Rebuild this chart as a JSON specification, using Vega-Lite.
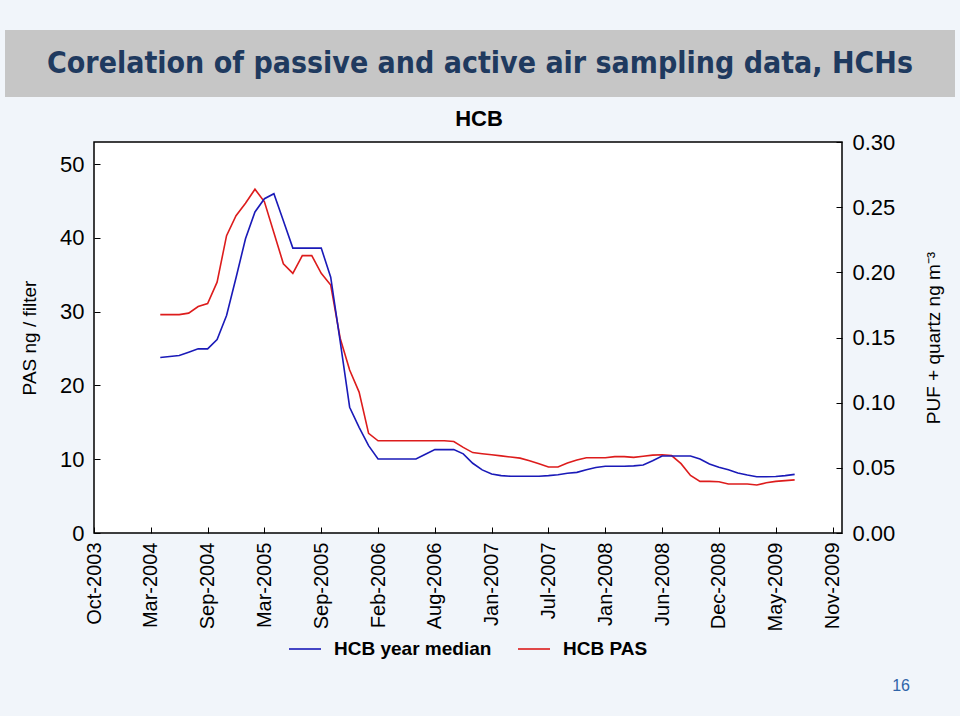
{
  "$schema": "https://vega.github.io/schema/vega-lite/v6.json",
  "background": "#f1f5fa",
  "padding": {"left": 5, "top": 30, "right": 5, "bottom": 22},
  "spacing": 10,
  "resolve": {"scale": {"color": "independent"}, "legend": {"color": "independent"}},
  "config": {
    "font": "Liberation Sans",
    "view": {"stroke": null},
    "axis": {"labelColor": "black", "titleColor": "black", "tickColor": "black", "grid": false, "domain": false, "labelFont": "Liberation Sans", "titleFont": "Liberation Sans", "titleFontWeight": "normal"}
  },
  "title": {"text": "16", "orient": "bottom", "anchor": "end", "fontSize": 16, "fontWeight": "normal", "color": "#2f64a8", "offset": 18, "dx": -45},
  "datasets": {
    "hcb": [
      {"date": "2004-04-27", "pas": 29.6, "median": 0.1346},
      {"date": "2004-05-25", "pas": 29.6, "median": 0.1354},
      {"date": "2004-06-22", "pas": 29.6, "median": 0.1362},
      {"date": "2004-07-20", "pas": 29.8, "median": 0.1387},
      {"date": "2004-08-17", "pas": 30.7, "median": 0.1413},
      {"date": "2004-09-14", "pas": 31.1, "median": 0.1413},
      {"date": "2004-10-12", "pas": 34.0, "median": 0.1485},
      {"date": "2004-11-09", "pas": 40.3, "median": 0.1669},
      {"date": "2004-12-07", "pas": 43.0, "median": 0.1958},
      {"date": "2005-01-04", "pas": 44.7, "median": 0.2258},
      {"date": "2005-02-01", "pas": 46.6, "median": 0.2463},
      {"date": "2005-03-01", "pas": 44.9, "median": 0.2565},
      {"date": "2005-04-01", "pas": 40.7, "median": 0.2603},
      {"date": "2005-05-02", "pas": 36.5, "median": 0.2395},
      {"date": "2005-06-01", "pas": 35.2, "median": 0.2186},
      {"date": "2005-07-04", "pas": 37.6, "median": 0.2186},
      {"date": "2005-08-04", "pas": 37.6, "median": 0.2186},
      {"date": "2005-09-06", "pas": 35.2, "median": 0.2186},
      {"date": "2005-10-04", "pas": 33.6, "median": 0.1963},
      {"date": "2005-11-01", "pas": 26.4, "median": 0.147},
      {"date": "2005-11-29", "pas": 22.1, "median": 0.0965},
      {"date": "2005-12-27", "pas": 19.1, "median": 0.0811},
      {"date": "2006-01-24", "pas": 13.5, "median": 0.067},
      {"date": "2006-02-21", "pas": 12.5, "median": 0.0568},
      {"date": "2006-03-21", "pas": 12.5, "median": 0.0568},
      {"date": "2006-04-18", "pas": 12.5, "median": 0.0568},
      {"date": "2006-05-16", "pas": 12.5, "median": 0.0568},
      {"date": "2006-06-13", "pas": 12.5, "median": 0.0568},
      {"date": "2006-07-11", "pas": 12.5, "median": 0.0604},
      {"date": "2006-08-08", "pas": 12.5, "median": 0.064},
      {"date": "2006-09-05", "pas": 12.5, "median": 0.064},
      {"date": "2006-10-03", "pas": 12.4, "median": 0.064},
      {"date": "2006-10-31", "pas": 11.6, "median": 0.0607},
      {"date": "2006-11-28", "pas": 10.9, "median": 0.0535},
      {"date": "2006-12-26", "pas": 10.75, "median": 0.0484},
      {"date": "2007-01-23", "pas": 10.6, "median": 0.0453},
      {"date": "2007-02-20", "pas": 10.45, "median": 0.044},
      {"date": "2007-03-20", "pas": 10.3, "median": 0.0435},
      {"date": "2007-04-17", "pas": 10.15, "median": 0.0435},
      {"date": "2007-05-15", "pas": 9.8, "median": 0.0435},
      {"date": "2007-06-12", "pas": 9.4, "median": 0.0435},
      {"date": "2007-07-10", "pas": 8.95, "median": 0.044},
      {"date": "2007-08-07", "pas": 8.95, "median": 0.0447},
      {"date": "2007-09-04", "pas": 9.5, "median": 0.0458},
      {"date": "2007-10-02", "pas": 9.9, "median": 0.0465},
      {"date": "2007-10-30", "pas": 10.2, "median": 0.0485},
      {"date": "2007-11-27", "pas": 10.2, "median": 0.0502},
      {"date": "2008-01-08", "pas": 10.2, "median": 0.0512},
      {"date": "2008-02-05", "pas": 10.35, "median": 0.0512},
      {"date": "2008-03-04", "pas": 10.35, "median": 0.0512},
      {"date": "2008-04-01", "pas": 10.25, "median": 0.0515},
      {"date": "2008-04-29", "pas": 10.4, "median": 0.0522},
      {"date": "2008-05-27", "pas": 10.55, "median": 0.0555},
      {"date": "2008-06-24", "pas": 10.6, "median": 0.0591},
      {"date": "2008-07-22", "pas": 10.5, "median": 0.0591},
      {"date": "2008-08-19", "pas": 9.4, "median": 0.0591},
      {"date": "2008-09-16", "pas": 7.8, "median": 0.0591},
      {"date": "2008-10-14", "pas": 7.0, "median": 0.0568},
      {"date": "2008-11-11", "pas": 7.0, "median": 0.053},
      {"date": "2008-12-09", "pas": 6.95, "median": 0.0505},
      {"date": "2009-01-06", "pas": 6.65, "median": 0.0485},
      {"date": "2009-02-03", "pas": 6.65, "median": 0.0461},
      {"date": "2009-03-03", "pas": 6.65, "median": 0.0445},
      {"date": "2009-03-31", "pas": 6.5, "median": 0.0432},
      {"date": "2009-04-28", "pas": 6.8, "median": 0.0432},
      {"date": "2009-05-26", "pas": 7.0, "median": 0.0433},
      {"date": "2009-06-23", "pas": 7.1, "median": 0.044},
      {"date": "2009-07-21", "pas": 7.2, "median": 0.045}
    ]
  },
  "vconcat": [
    {
      "width": 950,
      "height": 67,
      "view": {"fill": "#c6c6c6", "stroke": null},
      "data": {"values": [{"t": "Corelation of passive and active air sampling data, HCHs"}]},
      "mark": {"type": "text", "font": "DejaVu Sans Condensed, Liberation Sans", "fontSize": 30, "fontWeight": "bold", "color": "#1f3a5f"},
      "encoding": {"text": {"field": "t", "type": "nominal"}}
    },
    {
      "spacing": 0,
      "resolve": {"scale": {"color": "independent"}, "legend": {"color": "independent"}},
      "hconcat": [
        {
          "width": 14,
          "height": 391,
          "data": {"values": []},
          "mark": {"type": "point", "opacity": 0},
          "view": {"stroke": null, "fill": null}
        },
        {
          "width": 748,
          "height": 391,
          "title": {"text": "HCB", "fontSize": 22, "fontWeight": "bold", "color": "black", "anchor": "middle", "offset": 0, "dx": 11},
          "view": {"fill": "white", "stroke": "black", "strokeWidth": 1.5},
          "data": {"name": "hcb"},
          "encoding": {
            "x": {
              "field": "date", "type": "ordinal",
              "scale": {"type": "point", "padding": 0, "domain": ["2003-10-14", "2003-11-11", "2003-12-09", "2004-01-06", "2004-02-03", "2004-03-02", "2004-03-30", "2004-04-27", "2004-05-25", "2004-06-22", "2004-07-20", "2004-08-17", "2004-09-14", "2004-10-12", "2004-11-09", "2004-12-07", "2005-01-04", "2005-02-01", "2005-03-01", "2005-04-01", "2005-05-02", "2005-06-01", "2005-07-04", "2005-08-04", "2005-09-06", "2005-10-04", "2005-11-01", "2005-11-29", "2005-12-27", "2006-01-24", "2006-02-21", "2006-03-21", "2006-04-18", "2006-05-16", "2006-06-13", "2006-07-11", "2006-08-08", "2006-09-05", "2006-10-03", "2006-10-31", "2006-11-28", "2006-12-26", "2007-01-23", "2007-02-20", "2007-03-20", "2007-04-17", "2007-05-15", "2007-06-12", "2007-07-10", "2007-08-07", "2007-09-04", "2007-10-02", "2007-10-30", "2007-11-27", "2008-01-08", "2008-02-05", "2008-03-04", "2008-04-01", "2008-04-29", "2008-05-27", "2008-06-24", "2008-07-22", "2008-08-19", "2008-09-16", "2008-10-14", "2008-11-11", "2008-12-09", "2009-01-06", "2009-02-03", "2009-03-03", "2009-03-31", "2009-04-28", "2009-05-26", "2009-06-23", "2009-07-21", "2009-08-18", "2009-09-15", "2009-10-13", "2009-11-10", "2009-12-08"]},
              "axis": {
                "values": ["2003-10-14", "2004-03-30", "2004-09-14", "2005-03-01", "2005-09-06", "2006-02-21", "2006-08-08", "2007-01-23", "2007-07-10", "2008-01-08", "2008-06-24", "2008-12-09", "2009-05-26", "2009-11-10"],
                "labelExpr": "utcFormat(toDate(datum.value), '%b-%Y')",
                "labelAngle": 270, "labelFontSize": 20, "labelPadding": 15, "tickSize": -6, "labelOverlap": false, "title": null
              }
            }
          },
          "layer": [
            {
              "mark": {"type": "line", "strokeWidth": 1.6},
              "encoding": {
                "y": {"field": "pas", "type": "quantitative", "scale": {"domain": [0, 53], "nice": false},
                  "axis": {"orient": "left", "values": [0, 10, 20, 30, 40, 50], "labelFontSize": 22, "tickSize": -6, "labelPadding": 16, "title": "PAS ng / filter", "titleFontSize": 19, "titlePadding": 20}},
                "color": {"datum": "HCB PAS", "type": "nominal", "scale": {"domain": ["HCB year median", "HCB PAS"], "range": ["#1a1ab8", "#dd1c1c"]}}
              }
            },
            {
              "mark": {"type": "line", "strokeWidth": 1.6},
              "encoding": {
                "y": {"field": "median", "type": "quantitative", "scale": {"domain": [0, 0.3], "nice": false},
                  "axis": {"orient": "right", "values": [0, 0.05, 0.1, 0.15, 0.2, 0.25, 0.3], "format": ".2f", "labelFontSize": 22, "tickSize": -6, "labelPadding": 16, "title": "PUF + quartz ng m⁻³", "titleFontSize": 19, "titleAngle": 270, "titleBaseline": "top", "titlePadding": 30}},
                "color": {"datum": "HCB year median", "type": "nominal", "scale": {"domain": ["HCB year median", "HCB PAS"], "range": ["#1a1ab8", "#dd1c1c"]},
                  "legend": {"orient": "none", "legendX": 194, "legendY": 490, "direction": "horizontal", "title": null, "symbolType": "stroke", "symbolSize": 1024, "symbolStrokeWidth": 1.6, "labelFontSize": 19, "labelFontWeight": "bold", "labelColor": "black", "labelLimit": 400, "labelOffset": 12, "columnPadding": 22, "padding": 0}}
              }
            }
          ],
          "resolve": {"scale": {"y": "independent"}}
        }
      ]
    }
  ]
}
